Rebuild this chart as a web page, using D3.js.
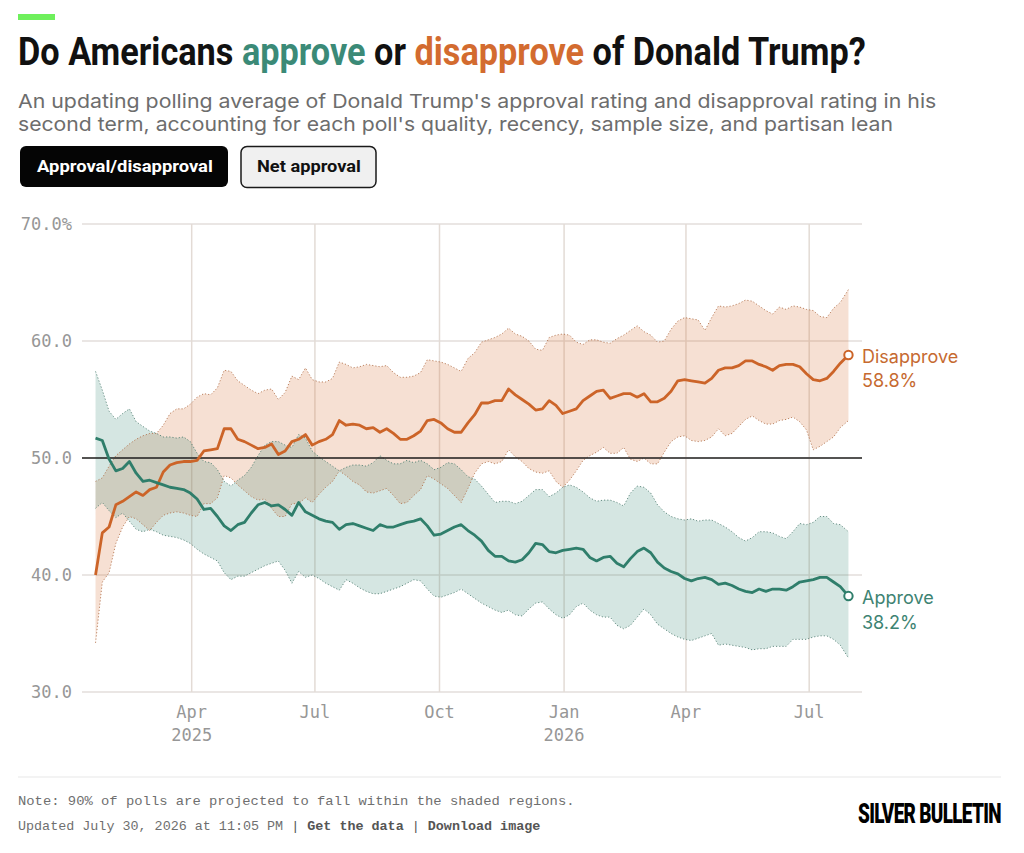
<!DOCTYPE html>
<html><head><meta charset="utf-8">
<script src="https://cdn.jsdelivr.net/npm/d3@7"></script>
<style>
body{margin:0;background:#fff;}
svg{display:block;}
</style></head>
<body><svg id="c" width="1024" height="853"></svg>
<script>
// ---------------- DATA ----------------
const startDate = "2025-01-20";
const endDate = "2026-07-30";
const stepDays = 5;

const approve = [
51.7,51.5,49.9,48.9,49.1,49.7,48.7,48.0,48.1,47.9,
47.7,47.5,47.4,47.3,47.0,46.5,45.6,45.7,45.0,44.2,
43.8,44.3,44.5,45.3,46.0,46.2,45.9,46.0,45.6,45.1,
46.2,45.4,45.1,44.8,44.6,44.5,43.9,44.3,44.4,44.2,
44.0,43.8,44.3,44.1,44.1,44.3,44.5,44.6,44.8,44.2,
43.4,43.5,43.8,44.1,44.3,43.8,43.4,42.9,42.1,41.6,
41.6,41.2,41.1,41.3,41.9,42.7,42.6,42.0,41.9,42.1,
42.2,42.3,42.2,41.5,41.2,41.5,41.6,41.0,40.7,41.4,
42.0,42.3,41.9,41.1,40.6,40.3,40.1,39.7,39.5,39.7,
39.8,39.6,39.2,39.3,39.1,38.8,38.6,38.5,38.8,38.6,
38.8,38.8,38.7,39.0,39.4,39.5,39.6,39.8,39.8,39.4,
39.0,38.2];

const approveHi = [
57.4,55.8,54.0,53.3,53.8,54.2,53.1,52.7,52.3,52.1,
51.8,51.8,51.7,51.8,51.4,50.4,49.7,49.6,49.0,48.0,
47.6,48.1,48.5,49.2,50.2,51.1,51.4,51.4,51.1,50.9,
52.0,51.7,50.6,50.1,49.7,49.3,48.9,49.2,49.4,49.4,
49.3,49.6,50.2,49.8,49.5,49.5,49.8,49.6,49.8,49.5,
49.0,49.2,49.6,49.5,49.0,48.4,48.2,47.6,46.9,46.2,
46.3,46.3,46.1,46.3,46.8,47.3,47.3,46.7,47.0,47.5,
47.7,47.5,47.1,46.6,46.3,46.4,46.4,46.2,45.9,47.0,
47.6,47.5,47.0,46.0,45.4,45.0,44.8,44.7,44.8,44.6,
44.7,44.7,44.4,44.1,43.7,43.2,42.9,43.2,43.7,43.7,
43.6,43.3,43.1,43.7,44.4,44.3,44.5,45.0,45.0,44.4,
44.3,43.7];

const approveLo = [
45.7,46.2,45.5,44.9,45.3,44.6,43.9,43.7,43.9,43.7,
43.4,43.3,43.2,43.0,42.7,42.2,41.8,41.5,41.2,40.2,
39.6,39.9,39.9,40.2,40.5,40.8,41.0,41.2,40.4,39.3,
40.3,39.8,40.0,39.7,39.3,39.0,38.7,39.6,39.3,38.9,
38.6,38.4,38.4,38.6,38.8,39.0,39.3,39.6,39.5,38.8,
38.2,38.1,38.3,38.5,38.8,38.4,38.0,37.6,37.3,37.0,
36.8,37.0,36.6,36.5,37.1,37.6,37.7,37.1,36.6,36.3,
36.6,37.3,37.6,37.0,36.6,36.4,36.4,35.7,35.4,35.7,
36.4,37.1,36.6,35.8,35.4,35.0,34.7,34.5,34.4,34.6,
34.8,35.0,34.0,34.1,34.0,33.9,33.8,33.6,33.7,33.7,
33.9,33.9,33.9,34.5,34.5,34.5,34.7,34.8,34.8,34.5,
34.0,32.9];

const disapprove = [
40.0,43.6,44.1,46.0,46.3,46.7,47.1,46.8,47.3,47.5,
48.8,49.4,49.6,49.7,49.7,49.8,50.6,50.7,50.8,52.5,
52.5,51.6,51.4,51.1,50.8,50.9,51.2,50.3,50.6,51.4,
51.6,52.0,51.1,51.4,51.6,52.0,53.2,52.8,52.9,52.8,
52.5,52.6,52.2,52.5,52.1,51.6,51.6,51.9,52.3,53.2,
53.3,53.0,52.5,52.2,52.2,53.0,53.7,54.7,54.7,54.9,
54.9,55.9,55.4,55.0,54.6,54.1,54.2,54.9,54.5,53.8,
54.0,54.2,54.9,55.3,55.7,55.8,55.1,55.3,55.5,55.5,
55.2,55.5,54.8,54.8,55.1,55.7,56.6,56.7,56.6,56.5,
56.4,56.8,57.5,57.7,57.7,57.9,58.3,58.3,58.0,57.8,
57.5,57.9,58.0,58.0,57.8,57.2,56.7,56.6,56.8,57.4,
58.1,58.8];

const disapproveHi = [
48.0,48.3,49.3,50.2,50.7,51.2,51.6,51.9,52.1,52.1,
52.8,53.8,54.2,54.2,54.6,55.2,55.5,55.4,56.0,57.5,
57.4,56.6,56.2,55.8,55.5,55.8,55.9,55.0,55.6,57.0,
56.7,57.7,56.7,56.5,56.5,56.8,58.2,58.0,57.7,57.8,
58.0,57.9,57.8,57.9,57.3,56.9,56.9,57.0,57.3,58.4,
58.3,58.2,58.0,57.7,57.4,58.5,59.0,59.9,60.1,60.3,
60.6,61.1,60.6,60.4,60.0,59.3,59.2,60.3,60.5,60.6,
60.5,59.9,59.7,60.1,60.1,59.9,59.8,60.2,60.5,60.9,
61.3,60.8,60.5,59.9,60.0,61.0,61.7,62.0,61.9,61.8,
60.9,62.0,63.0,62.9,63.0,63.2,63.5,63.4,63.0,62.6,
62.3,62.9,62.7,63.0,62.9,62.7,62.6,62.1,62.0,62.8,
63.3,64.4];

const disapproveLo = [
34.2,39.4,40.2,42.7,44.1,45.0,44.8,44.3,43.8,44.5,
45.1,45.3,45.4,45.3,45.1,45.0,46.1,46.1,46.6,48.5,
48.3,47.7,47.2,46.7,46.4,46.5,45.7,45.0,45.0,46.1,
46.1,46.6,46.2,46.9,47.5,48.0,48.9,48.5,48.0,47.7,
47.1,47.0,47.2,47.4,46.8,46.1,46.2,46.8,47.3,48.5,
48.2,47.8,47.4,46.8,46.2,47.4,48.7,49.5,49.7,49.5,
49.7,50.7,50.1,49.7,49.1,48.8,48.7,48.9,48.0,47.5,
48.1,48.9,49.8,50.2,50.5,50.9,50.4,50.4,50.9,49.9,
49.7,50.0,49.5,49.5,50.5,51.4,51.8,51.9,51.5,51.4,
51.5,51.8,52.5,51.9,52.1,52.7,53.3,53.6,53.2,52.9,
52.9,53.2,53.3,53.5,53.1,52.4,50.7,51.0,51.4,51.8,
52.6,53.2];

const yTicks = [30, 40, 50, 60, 70];
const yTickLabels = ["30.0", "40.0", "50.0", "60.0", "70.0%"];
const xTicks = ["2025-04-01","2025-07-01","2025-10-01","2026-01-01","2026-04-01","2026-07-01"];
const xTickMonths = ["Apr","Jul","Oct","Jan","Apr","Jul"];
const xTickYears = ["2025","","","2026","",""];
const xDomain = ["2025-01-10","2026-08-09"];
const yDomain = [30, 70];
const referenceLine = 50;

// ---------------- SETUP ----------------
const parse = d3.utcParse("%Y-%m-%d");
const t0 = parse(startDate), tEnd = parse(endDate);
const dates = approve.map((_, i) => i === approve.length - 1 ? tEnd : d3.utcDay.offset(t0, i * stepDays));
const rows = dates.map((d, i) => ({
  date: d, a: approve[i], aHi: approveHi[i], aLo: approveLo[i],
  d: disapprove[i], dHi: disapproveHi[i], dLo: disapproveLo[i]
}));

const GREEN = "#3b8a77", GREEN_LINE = "#2f7e6b";
const ORANGE = "#d36b2f", ORANGE_LINE = "#cc6428";
const MONO = "'DejaVu Sans Mono', 'Liberation Mono', monospace";
const SANS = "Inter, Roboto, 'Noto Sans', sans-serif";

const svg = d3.select("#c");
svg.append("rect").attr("width", 1024).attr("height", 853).attr("fill", "#fff");

function fit(sel, x, y, width) {
  const w = sel.node().getComputedTextLength();
  const k = width / w;
  sel.attr("x", 0).attr("y", 0).attr("transform", `translate(${x},${y}) scale(${k},1)`);
}

// header accent
svg.append("rect").attr("x", 18).attr("y", 14).attr("width", 37).attr("height", 6).attr("fill", "#6ef05c");

// title
const title = svg.append("text").attr("font-family", "Roboto, 'Noto Sans', sans-serif")
  .attr("font-weight", 700).attr("font-size", 38.5).attr("fill", "#111");
title.append("tspan").text("Do Americans ");
title.append("tspan").attr("fill", GREEN).text("approve");
title.append("tspan").text(" or ");
title.append("tspan").attr("fill", ORANGE).text("disapprove");
title.append("tspan").text(" of Donald Trump?");
fit(title, 18, 65, 848);

// subtitle
const sub1 = svg.append("text").attr("font-family", SANS).attr("font-size", 19).attr("fill", "#6d6d6d")
  .text("An updating polling average of Donald Trump's approval rating and disapproval rating in his");
fit(sub1, 18, 108, 919);
const sub2 = svg.append("text").attr("font-family", SANS).attr("font-size", 19).attr("fill", "#6d6d6d")
  .text("second term, accounting for each poll's quality, recency, sample size, and partisan lean");
fit(sub2, 18, 131, 875);

// buttons
svg.append("rect").attr("x", 20).attr("y", 146).attr("width", 208).attr("height", 41).attr("rx", 6).attr("fill", "#050505");
const b1 = svg.append("text").attr("font-family", "Roboto, sans-serif").attr("font-weight", 700).attr("font-size", 16)
  .attr("fill", "#fff").text("Approval/disapproval");
fit(b1, 37, 172, 176);
svg.append("rect").attr("x", 241).attr("y", 146.5).attr("width", 135).attr("height", 41).attr("rx", 6)
  .attr("fill", "#f0f0f0").attr("stroke", "#1a1a1a").attr("stroke-width", 1.5);
const b2 = svg.append("text").attr("font-family", "Roboto, sans-serif").attr("font-weight", 700).attr("font-size", 16)
  .attr("fill", "#111").text("Net approval");
fit(b2, 257, 172, 104);

// ---------------- CHART ----------------
const x = d3.scaleUtc().domain(xDomain.map(parse)).range([82, 862]);
const y = d3.scaleLinear().domain(yDomain).range([692, 224]);

const g = svg.append("g");

// horizontal grid
g.append("g").selectAll("line").data(yTicks).join("line")
  .attr("x1", x.range()[0]).attr("x2", x.range()[1])
  .attr("y1", d => y(d)).attr("y2", d => y(d))
  .attr("stroke", "#e3dedb").attr("stroke-width", 1.5);

// vertical grid
g.append("g").selectAll("line").data(xTicks).join("line")
  .attr("x1", d => x(parse(d))).attr("x2", d => x(parse(d)))
  .attr("y1", y(yDomain[1])).attr("y2", y(yDomain[0]))
  .attr("stroke", "#e3dbd5").attr("stroke-width", 1.5);

// y labels
g.append("g").selectAll("text").data(yTicks).join("text")
  .attr("x", 72).attr("y", d => y(d)).attr("dy", "0.36em")
  .attr("text-anchor", "end").attr("font-family", MONO).attr("font-size", 17)
  .attr("fill", "#979797").text((d, i) => yTickLabels[i]);

// x labels
const xl = g.append("g").selectAll("g").data(xTicks).join("g");
xl.append("text").attr("x", d => x(parse(d))).attr("y", 718)
  .attr("text-anchor", "middle").attr("font-family", MONO).attr("font-size", 17)
  .attr("fill", "#979797").text((d, i) => xTickMonths[i]);
xl.append("text").attr("x", d => x(parse(d))).attr("y", 741)
  .attr("text-anchor", "middle").attr("font-family", MONO).attr("font-size", 17)
  .attr("fill", "#979797").text((d, i) => xTickYears[i]);

// bands
const areaA = d3.area().x(d => x(d.date)).y0(d => y(d.aLo)).y1(d => y(d.aHi));
const areaD = d3.area().x(d => x(d.date)).y0(d => y(d.dLo)).y1(d => y(d.dHi));
g.append("path").datum(rows).attr("d", areaD).attr("fill", ORANGE).attr("fill-opacity", 0.21);
g.append("path").datum(rows).attr("d", areaA).attr("fill", GREEN).attr("fill-opacity", 0.21);

const edge = key => d3.line().x(d => x(d.date)).y(d => y(d[key]));
[["dHi", "#b0704a"], ["dLo", "#b0704a"], ["aHi", "#4d7b70"], ["aLo", "#4d7b70"]].forEach(([k, c]) => {
  g.append("path").datum(rows).attr("d", edge(k)).attr("fill", "none")
    .attr("stroke", c).attr("stroke-width", 1).attr("stroke-dasharray", "1.2,2").attr("stroke-opacity", 0.85);
});

// 50% reference line
g.append("line").attr("x1", x.range()[0]).attr("x2", x.range()[1])
  .attr("y1", y(referenceLine)).attr("y2", y(referenceLine))
  .attr("stroke", "#222").attr("stroke-width", 1.3);

// main lines
g.append("path").datum(rows).attr("d", edge("d")).attr("fill", "none")
  .attr("stroke", ORANGE_LINE).attr("stroke-width", 2.8).attr("stroke-linejoin", "round");
g.append("path").datum(rows).attr("d", edge("a")).attr("fill", "none")
  .attr("stroke", GREEN_LINE).attr("stroke-width", 2.8).attr("stroke-linejoin", "round");

// end markers + labels
const last = rows[rows.length - 1];
g.append("circle").attr("cx", x(last.date)).attr("cy", y(last.d)).attr("r", 4.2)
  .attr("fill", "#fff").attr("stroke", ORANGE_LINE).attr("stroke-width", 2);
g.append("circle").attr("cx", x(last.date)).attr("cy", y(last.a)).attr("r", 4.2)
  .attr("fill", "#fff").attr("stroke", GREEN_LINE).attr("stroke-width", 2);

const lbl = (txt, yy, col) => g.append("text").attr("x", 862).attr("y", yy)
  .attr("font-family", SANS).attr("font-size", 18).attr("fill", col).text(txt);
lbl("Disapprove", 363, "#c66a30");
lbl(d3.format(".1f")(last.d) + "%", 387, "#c66a30");
lbl("Approve", 604, "#3d8372");
lbl(d3.format(".1f")(last.a) + "%", 629, "#3d8372");

// ---------------- FOOTER ----------------
svg.append("line").attr("x1", 18).attr("x2", 1001).attr("y1", 777).attr("y2", 777)
  .attr("stroke", "#e8e8e8").attr("stroke-width", 1.2);

const note = svg.append("text").attr("font-family", "'Liberation Mono', monospace").attr("font-size", 13)
  .attr("fill", "#6f6f6f").text("Note: 90% of polls are projected to fall within the shaded regions.");
fit(note, 18, 805, 557);

const upd = svg.append("text").attr("font-family", "'Liberation Mono', monospace").attr("font-size", 13)
  .attr("fill", "#6f6f6f");
upd.append("tspan").text("Updated July 30, 2026 at 11:05 PM");
upd.append("tspan").attr("fill", "#555").text(" | ");
upd.append("tspan").attr("font-weight", 700).attr("fill", "#555").text("Get the data");
upd.append("tspan").attr("fill", "#555").text(" | ");
upd.append("tspan").attr("font-weight", 700).attr("fill", "#555").text("Download image");
fit(upd, 18, 830, 523);

const logo = svg.append("text").attr("font-family", "Roboto, sans-serif").attr("font-weight", 900)
  .attr("font-size", 28).attr("fill", "#000").attr("letter-spacing", -1).text("SILVER BULLETIN");
fit(logo, 858, 823, 143);
</script>
</body></html>
